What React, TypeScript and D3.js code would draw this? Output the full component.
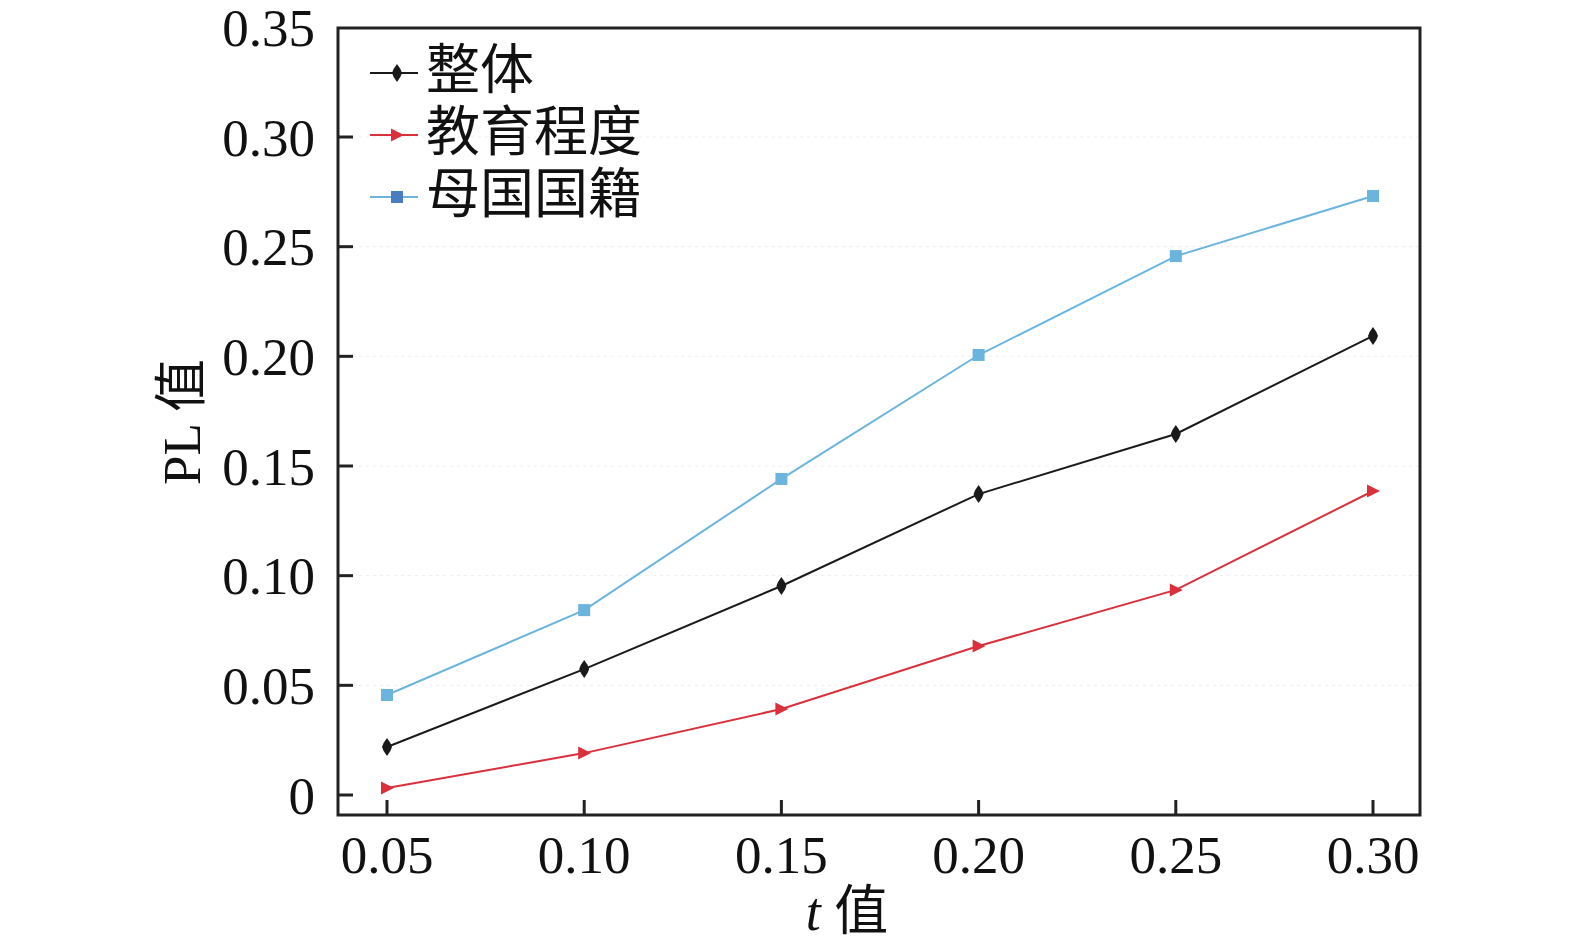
import * as d3 from 'd3';

const tValues = [0.05, 0.1, 0.15, 0.2, 0.25, 0.3];
const overall = [0.0219, 0.0574, 0.0953, 0.1372, 0.1646, 0.2093];
const education = [0.0032, 0.0191, 0.0392, 0.0679, 0.0935, 0.1386];
const nationality = [0.0456, 0.0843, 0.1441, 0.2006, 0.2457, 0.2731];
const seriesNames = ['整体', '教育程度', '母国国籍'];
const yTicks = [0, 0.05, 0.1, 0.15, 0.2, 0.25, 0.3, 0.35];
const xTicks = [0.05, 0.1, 0.15, 0.2, 0.25, 0.3];

const W = 1575;
const H = 951;
const left = 338, right = 1420, top = 28, bottom = 815;
const font = '"Liberation Serif", "Times New Roman", "Noto Sans CJK SC", serif';

const x = d3.scaleLinear().domain([0.05, 0.3]).range([387, 1373]);
const y = d3.scaleLinear().domain([0, 0.3]).range([795, 137]);

const fmtY = (v: number) => (v === 0 ? '0' : v.toFixed(2));

const series = [
  { name: seriesNames[0], values: overall, color: '#1a1a1a', legendMarker: '#1a1a1a', marker: 'diamond' },
  { name: seriesNames[1], values: education, color: '#d9303c', legendMarker: '#d9303c', marker: 'triangle' },
  { name: seriesNames[2], values: nationality, color: '#6ab4de', legendMarker: '#4a7cc0', marker: 'square' },
];

const Marker = ({ kind, cx, cy, fill }: { kind: string; cx: number; cy: number; fill: string }) => {
  if (kind === 'diamond')
    return (
      <path
        d={`M${cx},${cy - 9}Q${cx + 4},${cy - 4} ${cx + 5},${cy}Q${cx + 4},${cy + 4} ${cx},${cy + 9}Q${cx - 4},${cy + 4} ${cx - 5},${cy}Q${cx - 4},${cy - 4} ${cx},${cy - 9}Z`}
        fill={fill}
      />
    );
  if (kind === 'triangle')
    return <path d={`M${cx - 6},${cy - 6.5}L${cx + 7},${cy}L${cx - 6},${cy + 6.5}Z`} fill={fill} />;
  return <rect x={cx - 6} y={cy - 6} width={12} height={12} fill={fill} />;
};

export default function App() {
  const line = d3
    .line<number>()
    .x((_, i) => x(tValues[i]))
    .y((d) => y(d));

  return (
    <svg width={W} height={H} style={{ position: 'absolute', left: 0, top: 0, background: '#fff' }}>
      {/* faint gridlines */}
      {yTicks.slice(1, -1).map((t) => (
        <line key={'g' + t} x1={left} x2={right} y1={y(t)} y2={y(t)} stroke="#eeeeee" strokeWidth={1} strokeDasharray="3,4" />
      ))}

      {/* series */}
      {series.map((s) => (
        <g key={s.name}>
          <path d={line(s.values) || ''} fill="none" stroke={s.color} strokeWidth={2} />
          {s.values.map((v, i) => (
            <Marker key={i} kind={s.marker} cx={x(tValues[i])} cy={y(v)} fill={s.color} />
          ))}
        </g>
      ))}

      {/* frame */}
      <rect x={left} y={top} width={right - left} height={bottom - top} fill="none" stroke="#222" strokeWidth={3} />

      {/* y ticks */}
      {yTicks.map((t) => (
        <g key={'y' + t}>
          {t < 0.35 && <line x1={left} x2={left + 15} y1={y(t)} y2={y(t)} stroke="#222" strokeWidth={3} />}
          <text x={315} y={y(t)} dy="0.35em" textAnchor="end" fontSize={53} fontFamily={font} fill="#111">
            {fmtY(t)}
          </text>
        </g>
      ))}

      {/* x ticks */}
      {xTicks.map((t) => (
        <g key={'x' + t}>
          <line x1={x(t)} x2={x(t)} y1={bottom} y2={bottom - 15} stroke="#222" strokeWidth={3} />
          <text x={x(t)} y={873} textAnchor="middle" fontSize={53} fontFamily={font} fill="#111">
            {t.toFixed(2)}
          </text>
        </g>
      ))}

      {/* axis titles */}
      <text x={847} y={930} textAnchor="middle" fontSize={54} fontFamily={font} fill="#111">
        <tspan fontStyle="italic">t</tspan>
        <tspan> 值</tspan>
      </text>
      <text
        transform={`translate(200, 422) rotate(-90)`}
        textAnchor="middle"
        fontSize={53}
        fontFamily={font}
        fill="#111"
      >
        PL 值
      </text>

      {/* legend */}
      {series.map((s, i) => {
        const ly = 73 + i * 62;
        return (
          <g key={'l' + s.name}>
            <line x1={370} x2={418} y1={ly} y2={ly} stroke={s.color} strokeWidth={2} />
            <Marker kind={s.marker} cx={397} cy={ly} fill={s.legendMarker} />
            <text x={426} y={ly - 3} dy="0.35em" fontSize={54} fontFamily={font} fill="#111">
              {s.name}
            </text>
          </g>
        );
      })}
    </svg>
  );
}
